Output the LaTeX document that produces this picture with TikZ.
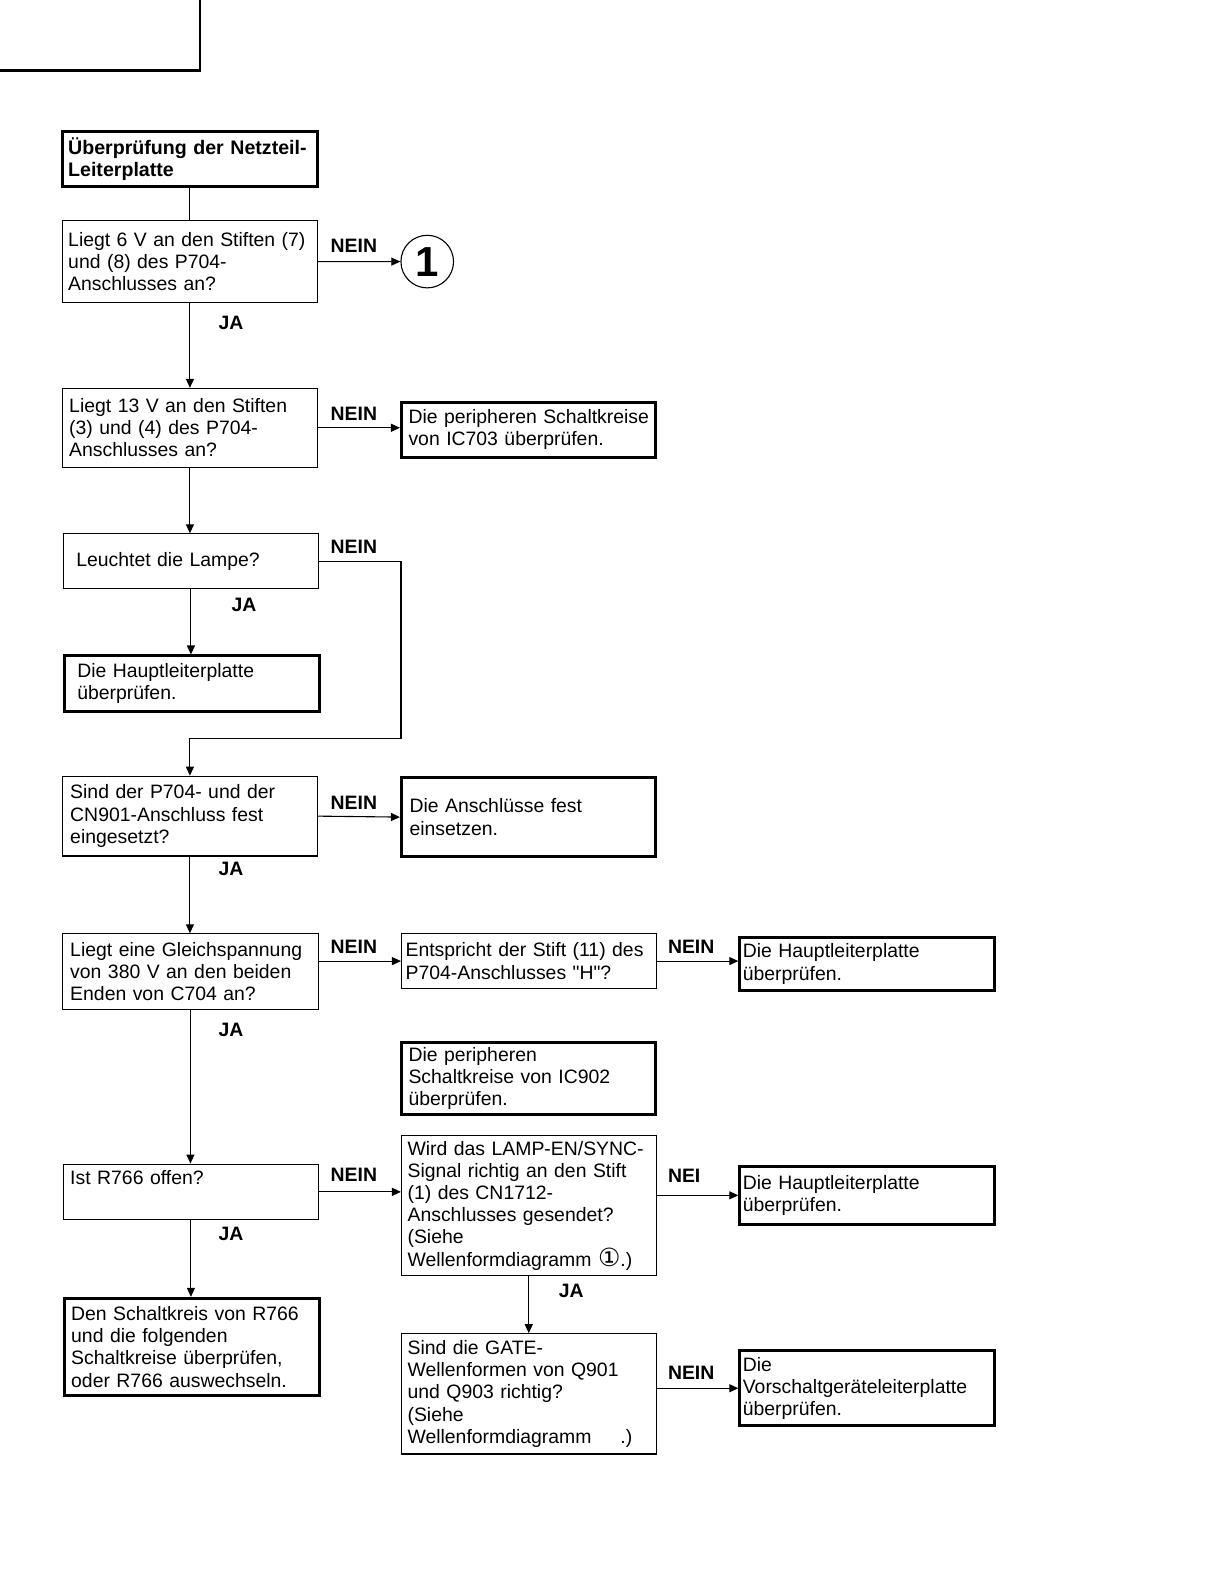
\documentclass[tikz,border=0pt]{standalone}
\usepackage{fontspec}
\setmainfont{Liberation Sans}
\newfontfamily\qfont{Liberation Sans}
\newfontfamily\circfont{DejaVu Sans}
\usetikzlibrary{arrows.meta}
\newdimen\pxu \pxu=0.505pt

\tikzset{
  box/.style n args={3}{draw, line width=0.55pt, anchor=north west,
    inner xsep=0pt, inner ysep=0pt, align=left,
    text width=#1*0.505pt, minimum height=#2*0.505pt,
    execute at begin node={\leftskip=#3\pxu}},
  fat/.style={line width=1.5pt},
  lbl/.style={font=\fontsize{9.7}{11}\selectfont\bfseries, anchor=base west, inner sep=0pt},
  flow/.style={-{Triangle[length=4.5pt,width=4pt]}, line width=0.55pt},
  link/.style={line width=0.55pt}
}

\begin{document}
\begin{tikzpicture}[x=0.505pt, y=-0.505pt, font=\fontsize{9.7}{11.1}\selectfont]
        \useasboundingbox (0pt,0pt) rectangle (612pt,-792pt);
        % Reiter oben links
        \draw[line width=1.2pt] (0,70) -- (198,70) -- (198,0);

        % Linke Spalte
        \node[box={253}{54}{6}, fat, font=\fontsize{9.8}{11.1}\selectfont\bfseries] (title) at (60,129)
            {Überprüfung der Netzteil-\\Leiterplatte};
        \node[box={253}{81}{6}] (q6v) at (61,218)
            {Liegt 6 V an den Stiften (7)\\und (8) des P704-\\Anschlusses an?};
        \node[box={253}{78}{7}] (q13v) at (61,384)
            {Liegt 13 V an den Stiften\\(3) und (4) des P704-\\Anschlusses an?};
        \node[box={253}{54}{13}] (lamp) at (62,528) {Leuchtet die Lampe?};
        \node[box={253}{55}{13}, fat] (main1) at (62,648)
            {Die Hauptleiterplatte\\überprüfen.};
        \node[box={253}{79}{8}] (plug) at (61,768)
            {Sind der P704- und der\\CN901-Anschluss fest\\eingesetzt?};
        \node[box={254}{75}{8}] (dc) at (61,924)
            {Liegt eine Gleichspannung\\von 380 V an den beiden\\Enden von C704 an?};
        \node[box={253}{55}{7}] (r766) at (62,1152) {Ist R766 offen?\\\strut};
        \node[box={253}{96}{7}, fat] (repl) at (62,1284)
            {Den Schaltkreis von R766\\und die folgenden\\Schaltkreise überprüfen,\\oder R766 auswechseln.};

        % Mittlere Spalte
        \node[draw, circle, line width=0.55pt, minimum size=26.3pt, inner sep=0pt,
              font=\fontsize{21}{21}\selectfont\bfseries] (c1) at (423,259) {1};
        \node[box={252}{54}{7}, fat] (ic703) at (396,397)
            {Die peripheren Schaltkreise\\von IC703 überprüfen.};
        \node[box={252}{79}{8}, fat] (fix) at (396,768)
            {Die Anschlüsse fest\\einsetzen.};
        \node[box={252}{54}{4}] (pin11) at (397,924)
            {Entspricht der Stift (11) des\\P704-Anschlusses {\qfont "H"}?};
        \node[box={252}{71}{7}, fat] (ic902) at (396,1031)
            {Die peripheren\\Schaltkreise von IC902\\überprüfen.};
        \node[box={252}{138}{6}] (sync) at (397,1124)
            {Wird das LAMP-EN/SYNC-\\Signal richtig an den Stift\\(1) des CN1712-\\Anschlusses gesendet?\\(Siehe\\Wellenformdiagramm \smash{\circfont\fontsize{12.5}{11}\selectfont ①}.)};
        \node[box={252}{119}{6}] (gate) at (397,1320)
            {Sind die GATE-\\Wellenformen von Q901\\und Q903 richtig?\\(Siehe\\Wellenformdiagramm \smash{\circfont\fontsize{12.5}{11}\selectfont\phantom{①}}.)};

        % Rechte Spalte
        \node[box={252}{52}{3}, fat] (main2) at (731,927)
            {Die Hauptleiterplatte\\überprüfen.};
        \node[box={252}{58}{3}, fat] (main3) at (731,1153)
            {Die Hauptleiterplatte\\überprüfen.};
        \node[box={252}{74}{3}, fat] (ballast) at (731,1336)
            {Die\\Vorschaltgeräteleiterplatte\\überprüfen.};

        % Verbindungen
        \draw[link] (title.south) -- (title.south |- q6v.north);
        \draw[flow] (q6v.east) -- (c1.west);
        \draw[flow] (q6v.south) -- (q13v.north);
        \draw[flow] (q13v.east) -- (q13v.east -| ic703.west);
        \draw[flow] (q13v.south) -- (q13v.south |- lamp.north);
        \draw[flow] (lamp.south) -- (lamp.south |- main1.north);
        \coordinate (bend) at (397,731);
        \draw[flow] (lamp.east) -| (bend) -| (plug.north);
        \draw[flow] (plug.east) -- (fix.west);
        \draw[flow] (plug.south) -- (plug.south |- dc.north);
        \draw[flow] (dc.east |- pin11.west) -- (pin11.west);
        \draw[flow] (pin11.east) -- (pin11.east -| main2.west);
        \draw[flow] (dc.south) -- (dc.south |- r766.north);
        \draw[flow] (r766.east) -- (r766.east -| sync.west);
        \draw[flow] (main3.west -| sync.east) -- (main3.west);
        \draw[flow] (sync.south) -- (sync.south |- gate.north);
        \draw[flow] (r766.south) -- (r766.south |- repl.north);
        \draw[flow] (gate.east |- ballast.west) -- (ballast.west);

        % Beschriftungen
        \node[lbl] (n6v)   at (327,250)  {NEIN};
        \node[lbl] (n13v)  at (327,416)  {NEIN};
        \node[lbl] (nlamp) at (327,548)  {NEIN};
        \node[lbl] (nplug) at (327,801)  {NEIN};
        \node[lbl] (ndc)   at (327,944)  {NEIN};
        \node[lbl] (npin)  at (661,944)  {NEIN};
        \node[lbl] (nr)    at (327,1170) {NEIN};
        \node[lbl] (nsync) at (661,1171) {NEI};
        \node[lbl] (ngate) at (661,1366) {NEIN};
        \node[lbl] (j6v)   at (216,326)  {JA};
        \node[lbl] (jlamp) at (229,605)  {JA};
        \node[lbl] (jplug) at (216,867)  {JA};
        \node[lbl] (jdc)   at (216,1026) {JA};
        \node[lbl] (jr)    at (216,1228) {JA};
        \node[lbl] (jsync) at (553,1285) {JA};
\end{tikzpicture}
\end{document}
